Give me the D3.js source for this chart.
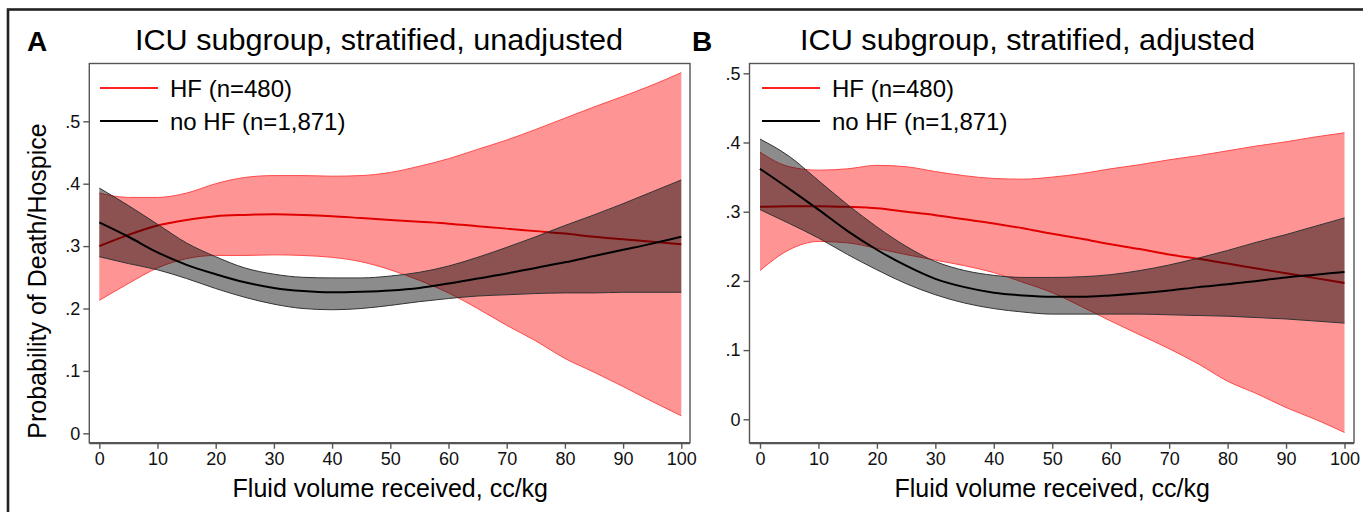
<!DOCTYPE html>
<html>
<head>
<meta charset="utf-8">
<script src="https://cdn.jsdelivr.net/npm/d3@7"></script>
<style>
  body { margin: 0; background: #fff; }
  svg { display: block; font-family: "Liberation Sans", Arial, sans-serif; }
</style>
</head>
<body>
<script>
// fluid volume grid, cc/kg
xs = [0, 5, 10, 15, 20, 25, 30, 35, 40, 45, 50, 55, 60, 65, 70, 75, 80, 85, 90, 95, 100]
xTicks = [0, 10, 20, 30, 40, 50, 60, 70, 80, 90, 100]
yTicks = [0, 0.1, 0.2, 0.3, 0.4, 0.5]
legendLabels = ["HF (n=480)", "no HF (n=1,871)"]

// panel A - unadjusted
hfA    = [.300, .318, .333, .342, .348, .350, .351, .350, .348, .345, .342, .339, .336, .332, .328, .324, .320, .315, .311, .307, .303]
hfA_hi = [.385, .378, .378, .385, .400, .410, .413, .413, .412, .413, .418, .428, .440, .455, .470, .487, .505, .523, .540, .558, .578]
hfA_lo = [.213, .240, .265, .280, .285, .285, .286, .285, .282, .275, .262, .245, .225, .200, .173, .148, .120, .098, .075, .051, .028]
noA    = [.338, .315, .290, .270, .255, .242, .233, .228, .226, .227, .229, .233, .240, .248, .256, .265, .274, .284, .294, .304, .315]
noA_hi = [.393, .365, .335, .305, .283, .265, .255, .250, .249, .249, .252, .258, .268, .282, .298, .315, .333, .350, .368, .387, .406]
noA_lo = [.283, .272, .262, .248, .232, .218, .207, .200, .198, .200, .205, .211, .216, .220, .222, .224, .225, .225, .226, .226, .226]

// panel B - adjusted
hfB    = [.307, .308, .308, .307, .305, .300, .295, .289, .283, .276, .268, .261, .253, .246, .238, .232, .225, .218, .211, .204, .197]
hfB_hi = [.386, .365, .360, .362, .367, .365, .358, .352, .348, .347, .350, .355, .362, .368, .375, .381, .388, .395, .401, .408, .414]
hfB_lo = [.215, .245, .257, .255, .247, .238, .230, .222, .212, .198, .183, .163, .142, .122, .102, .080, .055, .037, .017, .000, -.019]
noB    = [.362, .333, .303, .272, .245, .222, .203, .191, .183, .179, .177, .177, .179, .182, .186, .191, .195, .200, .205, .209, .213]
noB_hi = [.405, .380, .345, .310, .278, .250, .228, .215, .208, .205, .205, .206, .209, .215, .223, .233, .244, .256, .267, .279, .291]
noB_lo = [.303, .283, .262, .238, .216, .196, .180, .168, .160, .155, .152, .152, .152, .152, .151, .150, .149, .147, .145, .142, .139]

panels = [
  {letter: "A", title: "ICU subgroup, stratified, unadjusted", titleX: 135, titleW: 488,
   box: [89.3, 63.5, 690, 442.7], xr: [99.3, 681.3], yr: [433.3, 121.3],
   legX: 100, hf: hfA, hfHi: hfA_hi, hfLo: hfA_lo, no: noA, noHi: noA_hi, noLo: noA_lo, ytitle: true},
  {letter: "B", title: "ICU subgroup, stratified, adjusted", titleX: 800, titleW: 455,
   box: [749.5, 63.5, 1354, 442.7], xr: [760, 1344.5], yr: [419.3, 73.3],
   legX: 762, hf: hfB, hfHi: hfB_hi, hfLo: hfB_lo, no: noB, noHi: noB_hi, noLo: noB_lo, ytitle: false}
]

svg = d3.select("body").append("svg").attr("width", 1363).attr("height", 512)

// outer frame
svg.append("rect").attr("x", 8).attr("y", 9.5).attr("width", 1400).attr("height", 600)
  .attr("fill", "none").attr("stroke", "#222").attr("stroke-width", 2.6)

panels.forEach(function(p) {
  g = svg.append("g")
  x = d3.scaleLinear().domain([0, 100]).range(p.xr)
  y = d3.scaleLinear().domain([0, 0.5]).range(p.yr)

  // titles
  g.append("text").attr("x", p.titleX - 108).attr("y", 51).attr("font-size", 28).attr("font-weight", "bold")
    .text(p.letter)
  g.append("text").attr("x", p.titleX).attr("y", 50).attr("font-size", 29.5)
    .attr("textLength", p.titleW).attr("lengthAdjust", "spacingAndGlyphs").text(p.title)

  // plot region
  g.append("rect").attr("x", p.box[0]).attr("y", p.box[1])
    .attr("width", p.box[2] - p.box[0]).attr("height", p.box[3] - p.box[1])
    .attr("fill", "none").attr("stroke", "#555").attr("stroke-width", 1.4)

  clipId = "clip" + p.letter
  g.append("clipPath").attr("id", clipId).append("rect")
    .attr("x", p.box[0]).attr("y", p.box[1]).attr("width", p.box[2] - p.box[0]).attr("height", p.box[3] - p.box[1])
  plot = g.append("g").attr("clip-path", "url(#" + clipId + ")")

  band = function(hi, lo) {
    return d3.area().x((d, i) => x(xs[i])).y0((d, i) => y(lo[i])).y1((d, i) => y(hi[i])).curve(d3.curveMonotoneX)(xs)
  }
  edge = function(v) {
    return d3.line().x((d, i) => x(xs[i])).y((d, i) => y(v[i])).curve(d3.curveMonotoneX)(xs)
  }

  // HF band + line
  plot.append("path").attr("d", band(p.hfHi, p.hfLo)).attr("fill", "rgb(255,0,0)").attr("fill-opacity", 0.42)
  plot.append("path").attr("d", edge(p.hfHi)).attr("fill", "none").attr("stroke", "#ff4a4a").attr("stroke-width", 1)
  plot.append("path").attr("d", edge(p.hfLo)).attr("fill", "none").attr("stroke", "#ff4a4a").attr("stroke-width", 1)
  plot.append("path").attr("d", edge(p.hf)).attr("fill", "none").attr("stroke", "#e00000").attr("stroke-width", 2)

  // no HF band + line
  plot.append("path").attr("d", band(p.noHi, p.noLo)).attr("fill", "#000").attr("fill-opacity", 0.45)
  plot.append("path").attr("d", edge(p.noHi)).attr("fill", "none").attr("stroke", "#333").attr("stroke-width", 1)
  plot.append("path").attr("d", edge(p.noLo)).attr("fill", "none").attr("stroke", "#333").attr("stroke-width", 1)
  plot.append("path").attr("d", edge(p.no)).attr("fill", "none").attr("stroke", "#000").attr("stroke-width", 2)

  // axes
  yAxis = g.append("g").attr("transform", "translate(" + p.box[0] + ",0)")
    .call(d3.axisLeft(y).tickValues(yTicks).tickSize(6).tickPadding(3)
      .tickFormat(d => d === 0 ? "0" : d3.format(".1f")(d).replace(/^0/, "")))
  xAxis = g.append("g").attr("transform", "translate(0," + p.box[3] + ")")
    .call(d3.axisBottom(x).tickValues(xTicks).tickSize(6).tickPadding(4))
  ;[yAxis, xAxis].forEach(function(a) {
    a.select(".domain").remove()
    a.selectAll("line").attr("stroke", "#555").attr("stroke-width", 1.4)
    a.selectAll("text").attr("font-size", 18).attr("fill", "#111").attr("font-family", "Liberation Sans, Arial, sans-serif")
  })
  g.append("line").attr("x1", p.box[0]).attr("x2", p.box[2]).attr("y1", p.box[3] + 0.8).attr("y2", p.box[3] + 0.8)
    .attr("stroke", "#555").attr("stroke-width", 1.4)

  g.append("text").attr("x", (p.xr[0] + p.xr[1]) / 2).attr("y", 497).attr("text-anchor", "middle")
    .attr("font-size", 25).text("Fluid volume received, cc/kg")

  if (p.ytitle) {
    g.append("text").attr("transform", "translate(46,281) rotate(-90)").attr("text-anchor", "middle")
      .attr("font-size", 25).text("Probability of Death/Hospice")
  }

  // legend
  legColors = ["#ff2020", "#000"]
  legendLabels.forEach(function(l, i) {
    ly = 88 + i * 33
    g.append("line").attr("x1", p.legX).attr("x2", p.legX + 58).attr("y1", ly).attr("y2", ly)
      .attr("stroke", legColors[i]).attr("stroke-width", 2)
    g.append("text").attr("x", p.legX + 70).attr("y", ly + 8.5).attr("font-size", 24).text(l)
  })
})
</script>
</body>
</html>
